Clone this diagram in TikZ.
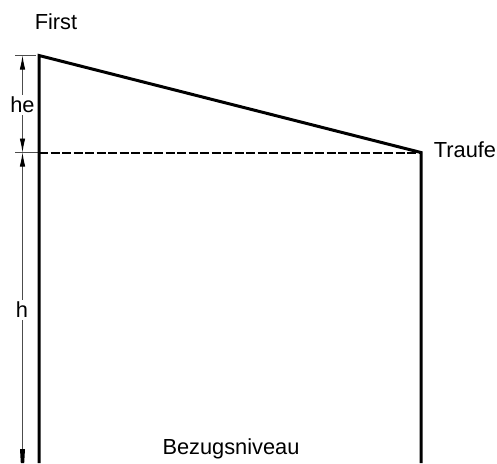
\documentclass[tikz,border=0pt]{standalone}
\usepackage{fontspec}
\setmainfont{Liberation Sans}
\usetikzlibrary{arrows.meta}
\tikzset{
  wall/.style={line width=3pt,line cap=butt,line join=miter},
  eave/.style={line width=2pt,dash pattern=on 9pt off 2.5pt},
  ext/.style={line width=0.6pt,black!70},
  dim/.style={line width=0.8pt,black!70},
  tip/.style={-{Latex[length=14pt,width=5.5pt,black]}},
  lbl/.style={font=\fontsize{21.8}{24}\selectfont,inner sep=0pt,text=black}
}
\begin{document}
\begin{tikzpicture}[x=1pt,y=-1pt]
\useasboundingbox (0,0) rectangle (497,463);
\coordinate (ridge) at (39,55.5);
\coordinate (eaveR) at (421,152.5);
\coordinate (eaveL) at (39,152.5);
\coordinate (baseL) at (39,463);
\coordinate (baseR) at (421,463);
\coordinate (e1) at (15,55.5);
\coordinate (e1e) at (36,55.5);
\coordinate (e2) at (15,152.5);
\coordinate (e2e) at (38,152.5);
\coordinate (d1) at (22.5,55.5);
\coordinate (d2) at (22.5,152.5);
\coordinate (d3) at (22.5,463);
\node[lbl] (first) at (56,22) {First};
\node[lbl] (traufe) at (465,150) {Traufe};
\node[lbl] (bezug) at (231,449) {Bezugsniveau};
\node[lbl] (he) at (22.5,105) {he};
\node[lbl] (h) at (22,310) {h};
\draw[ext] (e1) -- (e1e);
\draw[ext] (e2) -- (e2e);
\draw[dim,tip] (he.north -| d1) ++(0,-2) -- (d1);
\draw[dim,tip] (he.south -| d1) ++(0,2) -- (d2);
\draw[dim,tip] (h.north -| d2) ++(0,-2) -- (d2);
\draw[dim] (h.south -| d2) ++(0,2) -- (d3);
\fill[black] (20,449) -- (25,449) -- (24.2,463) -- (20.8,463) -- cycle;
\draw[eave] (eaveL) -- (eaveR);
\draw[wall] (baseL) -- (ridge) -- (eaveR) -- (baseR);
\end{tikzpicture}
\end{document}
